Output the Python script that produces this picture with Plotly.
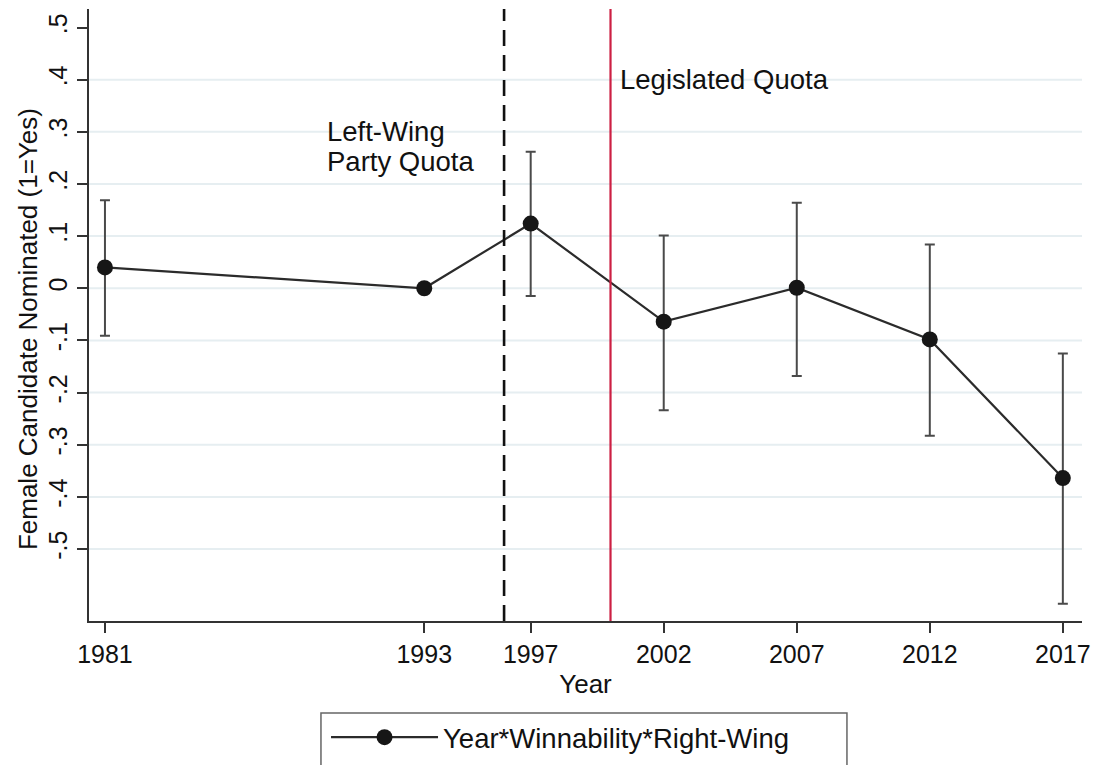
import plotly.graph_objects as go

# ---- data ----
years = [1981, 1993, 1997, 2002, 2007, 2012, 2017]
estimate = [0.040, 0.000, 0.124, -0.064, 0.001, -0.098, -0.364]
ci_low = [-0.091, None, -0.015, -0.234, -0.168, -0.283, -0.605]
ci_high = [0.169, None, 0.262, 0.101, 0.164, 0.084, -0.125]

x_ticks = [1981, 1993, 1997, 2002, 2007, 2012, 2017]
y_ticks = [-0.5, -0.4, -0.3, -0.2, -0.1, 0, 0.1, 0.2, 0.3, 0.4, 0.5]
y_ticktext = ["-.5", "-.4", "-.3", "-.2", "-.1", "0", ".1", ".2", ".3", ".4", ".5"]
grid_y = [-0.5, -0.4, -0.3, -0.2, -0.1, 0, 0.1, 0.2, 0.3, 0.4]

party_quota_year = 1996
legislated_quota_year = 2000

err_plus = [(h - e) if h is not None else 0 for h, e in zip(ci_high, estimate)]
err_minus = [(e - l) if l is not None else 0 for l, e in zip(ci_low, estimate)]

FONT = "Liberation Sans, Arial, Helvetica, sans-serif"
TXT = "#111111"

fig = go.Figure()
fig.add_trace(go.Scatter(
    x=years, y=estimate, mode="lines+markers",
    name="Year*Winnability*Right-Wing",
    line=dict(color="#2b2b2b", width=2.2),
    marker=dict(color="#161616", size=16),
    error_y=dict(type="data", symmetric=False, array=err_plus, arrayminus=err_minus,
                 color="#4a4a4a", thickness=2, width=5),
))

shapes = []
for g in grid_y:
    shapes.append(dict(type="line", xref="paper", x0=0, x1=1, yref="y", y0=g, y1=g,
                       line=dict(color="#e6eef1", width=2), layer="below"))
shapes.append(dict(type="line", xref="x", x0=party_quota_year, x1=party_quota_year,
                   yref="paper", y0=0, y1=1,
                   line=dict(color="#111111", width=2.6, dash="16px,9px")))
shapes.append(dict(type="line", xref="x", x0=legislated_quota_year, x1=legislated_quota_year,
                   yref="paper", y0=0, y1=1,
                   line=dict(color="#cc1f43", width=2.2)))
# legend frame
shapes.append(dict(type="rect", xref="paper", yref="paper",
                   x0=0.2336, x1=0.7633, y0=-0.2435, y1=-0.1503,
                   line=dict(color="#666666", width=1.5), fillcolor="rgba(0,0,0,0)"))

annotations = [
    dict(x=1989.27, y=0.300, xref="x", yref="y", text="Left-Wing",
         showarrow=False, xanchor="left", yanchor="middle", align="left",
         font=dict(family=FONT, size=27.5, color=TXT)),
    dict(x=1989.27, y=0.244, xref="x", yref="y", text="Party Quota",
         showarrow=False, xanchor="left", yanchor="middle", align="left",
         font=dict(family=FONT, size=27.5, color=TXT)),
    dict(x=2000.3, y=0.40, xref="x", yref="y", text="Legislated Quota",
         showarrow=False, xanchor="left", yanchor="middle", align="left",
         font=dict(family=FONT, size=27.5, color=TXT)),
    dict(x=-0.0614, y=0.477, xref="paper", yref="paper",
         text="Female Candidate Nominated (1=Yes)", textangle=-90,
         showarrow=False, xanchor="center", yanchor="middle",
         font=dict(family=FONT, size=26, color=TXT)),
]

fig.update_layout(
    width=1099, height=765,
    margin=dict(l=89, r=17, t=9, b=144, autoexpand=False),
    paper_bgcolor="white", plot_bgcolor="white",
    font=dict(family=FONT, size=25, color=TXT),
    shapes=shapes, annotations=annotations,
    showlegend=True,
    legend=dict(
        x=0.2387, y=-0.150, xanchor="left", yanchor="top",
        orientation="h", borderwidth=0, bgcolor="rgba(0,0,0,0)",
        font=dict(family=FONT, size=27.5, color=TXT),
        itemwidth=107,
    ),
    xaxis=dict(
        range=[1980.4, 2017.72], tickmode="array", tickvals=x_ticks,
        ticks="outside", ticklen=10, tickwidth=1.5, tickcolor="#333333",
        showline=True, linecolor="#333333", linewidth=1.5,
        showgrid=False, zeroline=False, automargin=False,
        title=dict(text="Year", font=dict(family=FONT, size=26), standoff=8),
        tickfont=dict(family=FONT, size=25),
    ),
    yaxis=dict(
        range=[-0.638, 0.5355], tickmode="array", tickvals=y_ticks, ticktext=y_ticktext,
        tickangle=-90,
        ticks="outside", ticklen=10, tickwidth=1.5, tickcolor="#333333",
        showline=True, linecolor="#333333", linewidth=1.5,
        showgrid=False, zeroline=False, automargin=False,
        tickfont=dict(family=FONT, size=25),
    ),
)

fig.write_html(
    "out.html",
    config={"displayModeBar": False},
    post_script="document.body.style.margin='0';document.body.style.overflow='hidden';",
)
